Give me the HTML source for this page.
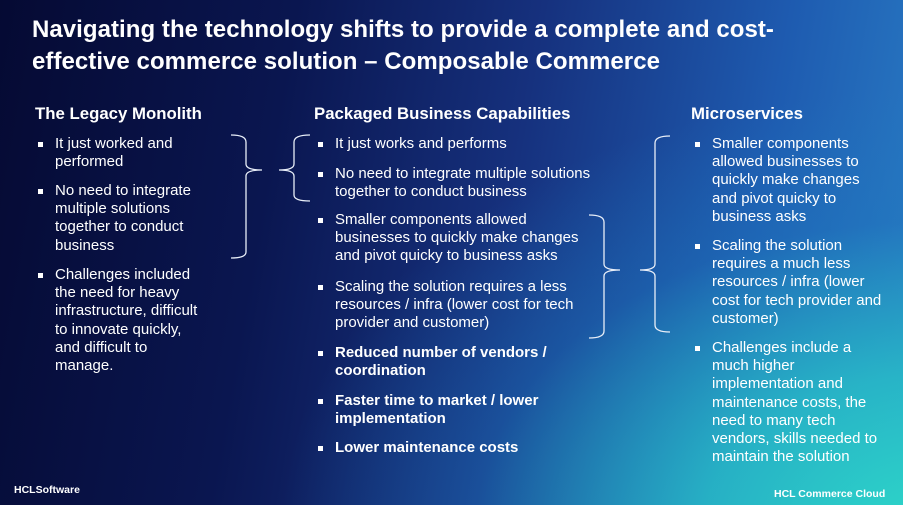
<!DOCTYPE html>
<html><head><meta charset="utf-8"><style>
html,body{margin:0;padding:0}
body{width:903px;height:505px;overflow:hidden;position:relative;font-family:"Liberation Sans",Arial,sans-serif;color:#fff;
background:
radial-gradient(ellipse 650px 440px at 930px 530px, rgba(45,215,200,1) 0%, rgba(40,190,200,0.85) 35%, rgba(30,120,190,0.4) 70%, rgba(20,60,150,0) 100%),
linear-gradient(100deg,#050a33 0%,#0a1650 30%,#16317e 55%,#1e5bb0 80%,#2a7ec6 100%);}
.t{position:absolute;left:32px;top:14px;font-size:24px;font-weight:bold;line-height:32px;letter-spacing:0.05px}
.h{position:absolute;font-size:16.8px;font-weight:bold;top:104px}
.p{position:absolute;font-size:15px;line-height:18.2px}
.p:before{content:"";position:absolute;width:5px;height:5px;background:#fff;left:-17px;top:7px}
.b{font-weight:bold}
.f{position:absolute;font-size:10.5px;font-weight:bold}
</style></head><body>
<div class="t">Navigating the technology shifts to provide a complete and cost-<br>effective commerce solution – Composable Commerce</div>
<div class="h" style="left:35px">The Legacy Monolith</div>
<div class="h" style="left:314px">Packaged Business Capabilities</div>
<div class="h" style="left:691px">Microservices</div>

<div class="p" style="left:55px;top:135px">It just worked and<br>performed</div>
<div class="p" style="left:55px;top:182px">No need to integrate<br>multiple solutions<br>together to conduct<br>business</div>
<div class="p" style="left:55px;top:266px">Challenges included<br>the need for heavy<br>infrastructure, difficult<br>to innovate quickly,<br>and difficult to<br>manage.</div>

<div class="p" style="left:335px;top:135px">It just works and performs</div>
<div class="p" style="left:335px;top:165px">No need to integrate multiple solutions<br>together to conduct business</div>
<div class="p" style="left:335px;top:211px">Smaller components allowed<br>businesses to quickly make changes<br>and pivot quicky to business asks</div>
<div class="p" style="left:335px;top:278px">Scaling the solution requires a less<br>resources / infra (lower cost for tech<br>provider and customer)</div>
<div class="p b" style="left:335px;top:344px">Reduced number of vendors /<br>coordination</div>
<div class="p b" style="left:335px;top:392px">Faster time to market / lower<br>implementation</div>
<div class="p b" style="left:335px;top:439px">Lower maintenance costs</div>

<div class="p" style="left:712px;top:135px">Smaller components<br>allowed businesses to<br>quickly make changes<br>and pivot quicky to<br>business asks</div>
<div class="p" style="left:712px;top:237px">Scaling the solution<br>requires a much less<br>resources / infra (lower<br>cost for tech provider and<br>customer)</div>
<div class="p" style="left:712px;top:339px">Challenges include a<br>much higher<br>implementation and<br>maintenance costs, the<br>need to many tech<br>vendors, skills needed to<br>maintain the solution</div>

<svg width="903" height="505" style="position:absolute;left:0;top:0" fill="none" stroke="#e8eef8" stroke-width="1.3">
<path d="M231 135 Q246 135 246 142 V164 Q246 170 262 170 Q246 170 246 176 V252 Q246 258 231 258"/>
<path d="M310 135 Q294 135 294 142 V164 Q294 170 279 170 Q294 170 294 176 V195 Q294 201 310 201"/>
<path d="M589 215 Q604 215 604 222 V264 Q604 270 620 270 Q604 270 604 276 V331 Q604 338 589 338"/>
<path d="M670 136 Q655 136 655 143 V264 Q655 270 640 270 Q655 270 655 276 V325 Q655 332 670 332"/>
</svg>
<div class="f" style="left:14px;top:484px">HCLSoftware</div>
<div class="f" style="left:774px;top:488px">HCL Commerce Cloud</div>
</body></html>
